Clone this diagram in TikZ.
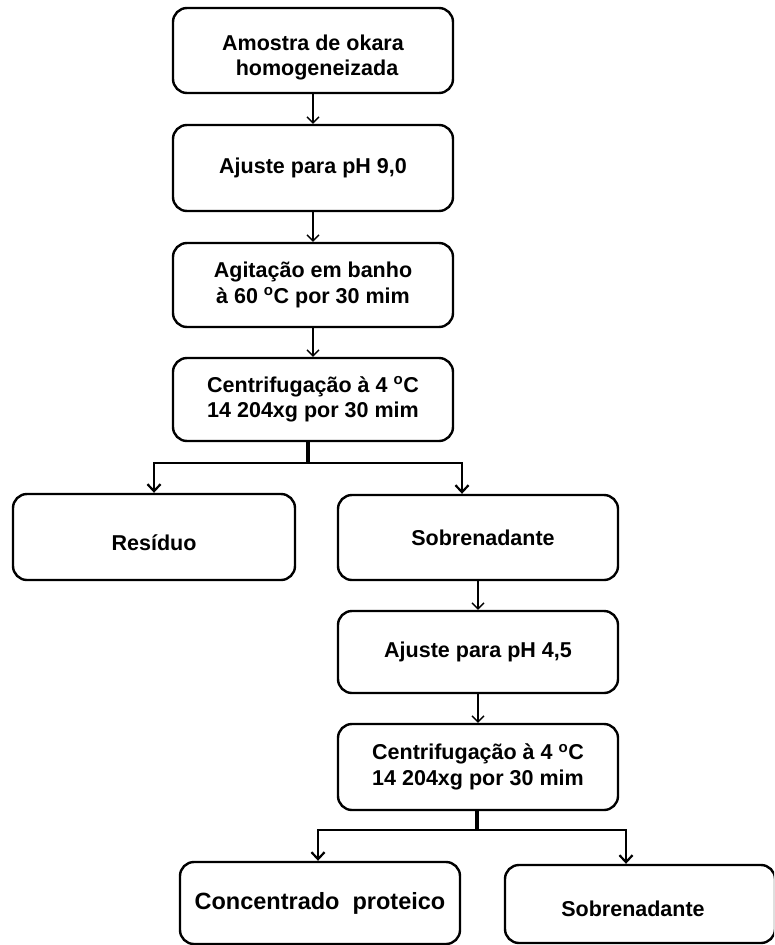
\documentclass[tikz,border=0pt]{standalone}
\usepackage{fontspec}
\setmainfont{Liberation Sans}
\usetikzlibrary{arrows.meta}
\tikzset{
  box/.style={draw, line width=2.4pt, rounded corners=14pt, minimum width=280pt, align=center, font=\fontsize{21.5}{25.5}\selectfont\bfseries, inner sep=0pt},
  thinarr/.style={line width=1.3pt, -{Straight Barb[length=6pt,width=12pt,line width=1.3pt]}},
  brarr/.style={line width=2.4pt, -{Straight Barb[length=7pt,width=13pt,line width=2.2pt]}},
  stem/.style={line width=4pt}
}
\newcommand{\lowertext}[2]{\raisebox{-#1}[\height][0pt]{#2}}
\newcommand{\degsup}{\textsuperscript{\fontsize{15}{15}\selectfont o}}
\begin{document}
\begin{tikzpicture}[x=1pt,y=-1pt]
\useasboundingbox (0,0) rectangle (774,945);
\clip (0,0) rectangle (774,945);
\node[box, minimum height=85pt] (b1) at (313,50.5) {\raisebox{3pt}[\height][0pt]{\begin{tabular}{@{}c@{}}Amostra de okara\\\hspace*{8pt}homogeneizada\end{tabular}}};
\node[box, minimum height=86pt] (b2) at (313,168) {Ajuste para pH 9,0};
\node[box, minimum height=84pt] (b3) at (313,285) {Agitação em banho\\à 60 \degsup C por 30 mim};
\node[box, minimum height=83pt] (b4) at (313,399.5) {Centrifugação à 4 \degsup C\\14 204xg por 30 mim};
\node[box, minimum width=282pt, minimum height=86pt] (res) at (154,537) {\lowertext{6pt}{Resíduo}};
\node[box, minimum height=85pt] (sob) at (478,537.5) {\hspace*{10pt}Sobrenadante};
\node[box, minimum height=82pt] (b5) at (478,652) {Ajuste para pH 4,5};
\node[box, minimum height=86pt] (b6) at (478,767) {Centrifugação à 4 \degsup C\\14 204xg por 30 mim};
\node[box, minimum height=82pt, font=\fontsize{23.5}{28}\selectfont\bfseries] (conc) at (320,903) {Concentrado\ \ proteico};
\node[box, minimum width=270pt, minimum height=78pt] (sob2) at (640,904) {\hspace*{-14pt}\lowertext{5pt}{Sobrenadante}};
\draw[thinarr] (b1) -- (b2);
\draw[thinarr] (b2) -- (b3);
\draw[thinarr] (b3) -- (b4);
\coordinate (j1) at (308,463);
\draw[stem] (b4.south -| j1) -- (j1);
\draw[brarr] ([xshift=1pt]j1) -| (res.north);
\draw[brarr] ([xshift=-1pt]j1) -| ([xshift=-16pt]sob.north);
\draw[thinarr] (sob) -- (b5);
\draw[thinarr] (b5) -- (b6);
\coordinate (j2) at (477,830);
\draw[stem] (b6.south -| j2) -- (j2);
\draw[brarr] ([xshift=1pt]j2) -| ([xshift=-2pt]conc.north);
\draw[brarr] ([xshift=-1pt]j2) -| ([xshift=-14pt]sob2.north);
\end{tikzpicture}
\end{document}
